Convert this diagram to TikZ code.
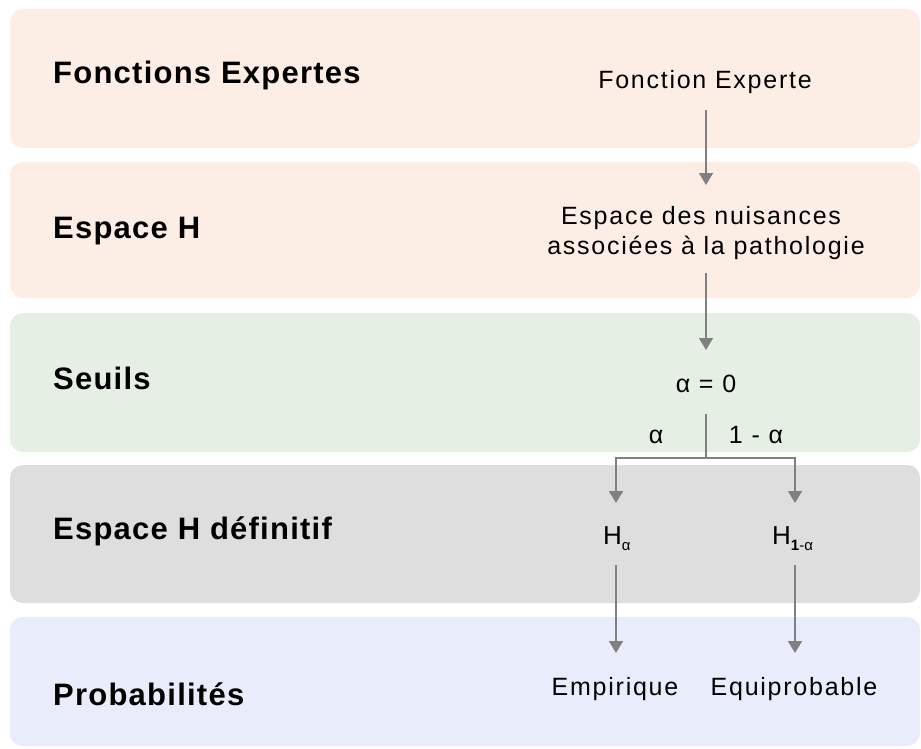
\documentclass[tikz,border=0pt]{standalone}
\usepackage{fontspec}
\setmainfont{Liberation Sans}
\newfontfamily\lblfont[LetterSpace=4]{Liberation Sans}
\newfontfamily\txtfont[LetterSpace=7]{Liberation Sans}
\usetikzlibrary{arrows.meta}
\definecolor{peach}{HTML}{FDEEE5}
\definecolor{mint}{HTML}{E5EFE4}
\definecolor{greyband}{HTML}{DEDEDE}
\definecolor{blueband}{HTML}{E8ECFB}
\definecolor{arrowgrey}{HTML}{808080}
\tikzset{
  band/.style={rounded corners=13pt},
  lbl/.style={anchor=base west, inner sep=0pt, font=\lblfont\bfseries\fontsize{31}{36}\selectfont},
  txt/.style={anchor=base, inner sep=0pt, font=\txtfont\fontsize{25}{30}\selectfont},
  conn/.style={draw=arrowgrey, line width=1.5pt},
  arr/.style={conn, -{Triangle[width=14pt,length=12pt]}}
}
\begin{document}
\begin{tikzpicture}[x=1pt,y=-1pt]
\useasboundingbox (0,0) rectangle (921,749);
\fill[white] (0,0) rectangle (921,749);
% bands
\fill[peach,band] (10,9) rectangle (920,148);
\fill[peach,band] (10,162) rectangle (920,298);
\fill[mint,band] (10,313) rectangle (920,452);
\fill[greyband,band] (10,465) rectangle (920,603);
\fill[blueband,band] (10,617) rectangle (920,746);
% left labels
\node[lbl] (l1) at (53,84) {Fonctions Expertes};
\node[lbl] (l2) at (53,238) {Espace H};
\node[lbl] (l3) at (53,389) {Seuils};
\node[lbl] (l4) at (53,539) {Espace H définitif};
\node[lbl] (l5) at (53,705) {Probabilités};
% right column texts
\node[txt] (fe) at (705,89) {Fonction Experte};
\node[txt] (esp1) at (701,224) {Espace des nuisances};
\node[txt] (esp2) at (706,254) {associées à la pathologie};
\node[txt] (a0) at (706,392) {α = 0};
\node[txt] (la) at (656,443) {α};
\node[txt] (l1a) at (756,443) {1 - α};
\node[anchor=base west, inner sep=0pt] (ha) at (603,544)
  {\fontsize{26}{26}\selectfont H\raisebox{-6pt}{\fontsize{15}{15}\selectfont α}};
\node[anchor=base west, inner sep=0pt] (h1a) at (772,544)
  {\fontsize{26}{26}\selectfont H\raisebox{-6pt}{\fontsize{15}{15}\selectfont\textbf{1}-α}};
\node[txt] (emp) at (615,695) {Empirique};
\node[txt] (equi) at (794,695) {Equiprobable};
% connector end points
\coordinate (c1s) at (706,110);
\coordinate (c1e) at (706,185);
\coordinate (c2s) at (706,273);
\coordinate (c2e) at (706,350);
\coordinate (sp) at (706,414);
\coordinate (spj) at (706,458);
\coordinate (ta) at (616,503);
\coordinate (t1a) at (795,503);
\coordinate (ha0) at (616,565);
\coordinate (ha1) at (616,653);
\coordinate (hb0) at (795,565);
\coordinate (hb1) at (795,653);
% connectors
\draw[arr] (c1s) -- (c1e);
\draw[arr] (c2s) -- (c2e);
\draw[conn] (sp) -- (spj);
\draw[arr] (spj) -| (ta);
\draw[arr] (spj) -| (t1a);
\draw[arr] (ha0) -- (ha1);
\draw[arr] (hb0) -- (hb1);
\end{tikzpicture}
\end{document}
